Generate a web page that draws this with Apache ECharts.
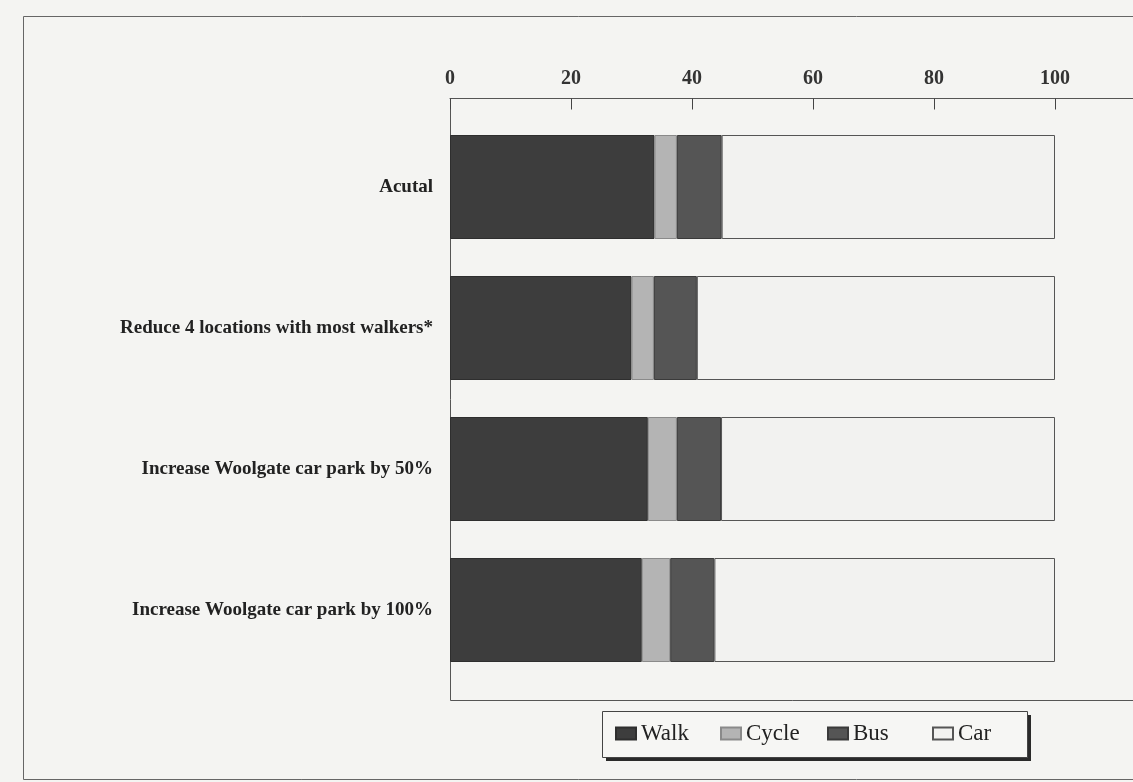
<!DOCTYPE html>
<html>
<head>
<meta charset="utf-8">
<script src="https://cdn.jsdelivr.net/npm/echarts@6/dist/echarts.min.js"></script>
<style>
  html, body { margin: 0; padding: 0; background: #f4f4f2; }
  #chart { width: 1133px; height: 782px; }
</style>
</head>
<body>
<div id="chart"></div>
<script>
// Scenario names (top to bottom)
const categories = [
  'Acutal',
  'Reduce 4 locations with most walkers*',
  'Increase Woolgate car park by 50%',
  'Increase Woolgate car park by 100%'
];

// Mode share (%) per scenario
const walk  = [33.8, 30.0, 32.7, 31.7];
const cycle = [3.7, 3.7, 4.8, 4.7];
const bus   = [7.4, 7.1, 7.3, 7.3];
const car   = [55.1, 59.2, 55.2, 56.3];

// Axis tick labels shown along the top
const tickLabels = [0, 20, 40, 60, 80, 100];

const serif = '"Liberation Serif", "DejaVu Serif", serif';

// legendLeft: where each key's swatch sits inside the legend box
const seriesDefs = [
  { name: 'Walk',  data: walk,  color: '#3d3d3d', border: '#2e2e2e', legendLeft: 615 },
  { name: 'Cycle', data: cycle, color: '#b4b4b4', border: '#8a8a8a', legendLeft: 720 },
  { name: 'Bus',   data: bus,   color: '#555555', border: '#3a3a3a', legendLeft: 827 },
  { name: 'Car',   data: car,   color: '#f2f2f0', border: '#555555', legendLeft: 932 }
];

const chart = echarts.init(document.getElementById('chart'), null, { renderer: 'canvas' });

chart.setOption({
  backgroundColor: '#f4f4f2',
  animation: false,
  graphic: [
    {
      // outer chart border
      type: 'rect',
      silent: true,
      z: -10,
      shape: { x: 23.5, y: 16.5, width: 1200, height: 763 },
      style: { fill: 'none', stroke: '#666', lineWidth: 1 }
    },
    {
      // legend box drop shadow
      type: 'rect',
      silent: true,
      z: -6,
      shape: { x: 606, y: 715, width: 425, height: 46 },
      style: { fill: '#2a2a2a' }
    },
    {
      // legend box
      type: 'rect',
      silent: true,
      z: -5,
      shape: { x: 602.5, y: 711.5, width: 425, height: 46 },
      style: { fill: '#f6f6f4', stroke: '#444', lineWidth: 1 }
    }
  ],
  grid: [
    // data area
    { left: 450, top: 116.5, width: 726, height: 564, outerBoundsMode: 'none', containLabel: false },
    // plot-area frame
    { left: 450.5, top: 98.5, width: 800, height: 602, outerBoundsMode: 'none', show: true,
      borderColor: '#555', borderWidth: 1, backgroundColor: 'transparent' }
  ],
  xAxis: [
    {
      type: 'value',
      gridIndex: 0,
      position: 'top',
      offset: 18,
      min: 0,
      max: 120,
      interval: 20,
      splitLine: { show: false },
      axisLine: { show: true, lineStyle: { color: '#555', width: 1 } },
      axisTick: { show: true, inside: true, length: 11, lineStyle: { color: '#444' } },
      axisLabel: {
        margin: 10,
        fontFamily: serif,
        fontSize: 20,
        fontWeight: 'bold',
        color: '#333',
        formatter: v => tickLabels.includes(v) ? String(v) : ''
      }
    },
    { type: 'value', gridIndex: 1, show: false }
  ],
  yAxis: [
    {
      type: 'category',
      gridIndex: 0,
      inverse: true,
      data: categories,
      axisLine: { show: false },
      axisTick: { show: false },
      axisLabel: {
        margin: 17,
        fontFamily: serif,
        fontSize: 19,
        fontWeight: 'bold',
        color: '#222'
      }
    },
    { type: 'value', gridIndex: 1, show: false }
  ],
  // one legend per key so each keeps its own place in the box
  legend: seriesDefs.map(s => ({
    left: s.legendLeft,
    top: 722,
    orient: 'horizontal',
    data: [s.name],
    icon: 'rect',
    itemWidth: 20,
    itemHeight: 12,
    padding: 0,
    backgroundColor: 'transparent',
    borderWidth: 0,
    textStyle: { fontFamily: serif, fontSize: 23, color: '#222' }
  })),
  series: seriesDefs.map(s => ({
    name: s.name,
    type: 'bar',
    stack: 'share',
    xAxisIndex: 0,
    yAxisIndex: 0,
    barWidth: 104,
    data: s.data,
    itemStyle: { color: s.color, borderColor: s.border, borderWidth: 1 }
  }))
});
</script>
</body>
</html>
